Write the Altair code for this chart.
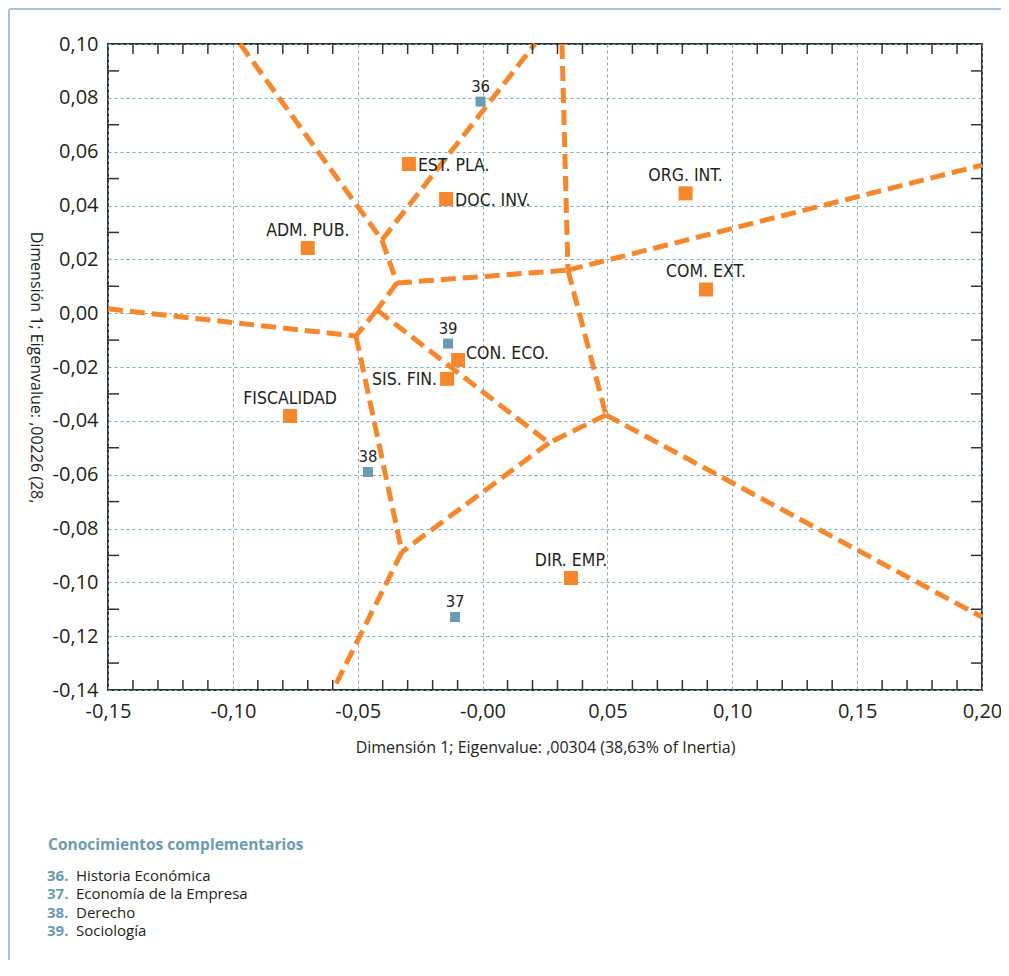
import altair as alt
import pandas as pd

# ---------------- data ----------------
act_names = ["EST. PLA.", "DOC. INV.", "ADM. PUB.", "ORG. INT.", "COM. EXT.",
             "CON. ECO.", "SIS. FIN.", "FISCALIDAD", "DIR. EMP."]
act_x = [-0.0295, -0.0146, -0.0700, 0.0813, 0.0895, -0.0098, -0.0142, -0.0771, 0.0354]
act_y = [0.0554, 0.0424, 0.0242, 0.0445, 0.0088, -0.0174, -0.0244, -0.0382, -0.0984]
act_pos = ["right", "right", "top", "top", "top", "upright", "left", "top", "top"]

sup_names = ["36", "37", "38", "39"]
sup_x = [-0.0008, -0.0110, -0.0459, -0.0138]
sup_y = [0.0786, -0.1129, -0.0590, -0.0113]

# Voronoi-like boundary segments
seg_x1 = [-0.0971, -0.0403, -0.0403, -0.0343, 0.0318, 0.0342, 0.0342, 0.0494,
          0.0494, -0.0343, -0.0423, -0.0423, -0.1500, -0.0507, 0.0266, -0.0323]
seg_y1 = [0.1000, 0.0272, 0.0272, 0.0112, 0.1000, 0.0160, 0.0160, -0.0378,
          -0.0378, 0.0112, 0.0012, 0.0012, 0.0016, -0.0085, -0.0482, -0.0887]
seg_x2 = [-0.0403, 0.0210, -0.0343, 0.0342, 0.0342, 0.2000, 0.0494, 0.2000,
          0.0266, -0.0423, 0.0266, -0.0507, -0.0507, -0.0323, -0.0323, -0.0599]
seg_y2 = [0.0272, 0.1000, 0.0112, 0.0160, 0.0160, 0.0550, -0.0378, -0.1129,
          -0.0482, 0.0012, -0.0482, -0.0085, -0.0085, -0.0887, -0.0887, -0.1400]

x_ticks = [-0.15, -0.10, -0.05, 0.0, 0.05, 0.10, 0.15, 0.20]
x_tick_labels = ["-0,15", "-0,10", "-0,05", "-0,00", "0,05", "0,10", "0,15", "0,20"]
y_ticks = [-0.14, -0.12, -0.10, -0.08, -0.06, -0.04, -0.02, 0.0, 0.02, 0.04, 0.06, 0.08, 0.10]
y_tick_labels = ["-0,14", "-0,12", "-0,10", "-0,08", "-0,06", "-0,04", "-0,02",
                 "0,00", "0,02", "0,04", "0,06", "0,08", "0,10"]
x_minor = [-0.14, -0.13, -0.12, -0.11, -0.09, -0.08, -0.07, -0.06, -0.04, -0.03, -0.02, -0.01,
           0.01, 0.02, 0.03, 0.04, 0.06, 0.07, 0.08, 0.09, 0.11, 0.12, 0.13, 0.14,
           0.16, 0.17, 0.18, 0.19]
y_minor = [0.09, 0.07, 0.05, 0.03, 0.01, -0.01, -0.03, -0.05, -0.07, -0.09, -0.11, -0.13]

x_title = "Dimensión 1; Eigenvalue: ,00304 (38,63% of Inertia)"
y_title = "Dimensión 1; Eigenvalue: ,00226 (28,"

legend_title = "Conocimientos complementarios"
legend_nums = ["36.", "37.", "38.", "39."]
legend_names = ["Historia Económica", "Economía de la Empresa", "Derecho", "Sociología"]

# ---------------- styles ----------------
W, H = 874, 646
orange = "#F5872C"
blue = "#6B9BB2"
dark = "#231F20"
gridc = "#7FA6BA"
lab_font = "DejaVu Sans Condensed, Liberation Sans, sans-serif"
axis_font = "Open Sans"

xs = alt.Scale(domain=[-0.15, 0.20], nice=False, zero=False)
ys = alt.Scale(domain=[-0.14, 0.10], nice=False, zero=False)

def arr_expr(labels, start, step):
    arr = "[" + ",".join("'" + s + "'" for s in labels) + "]"
    return f"{arr}[round((datum.value - ({start})) / {step})]"

xaxis = alt.Axis(values=x_ticks, labelExpr=arr_expr(x_tick_labels, -0.15, 0.05),
                 grid=True, gridDash=[3, 3], gridColor=gridc, gridWidth=1,
                 ticks=False, domain=False, labelFont=axis_font, labelFontSize=20,
                 labelColor=dark, labelPadding=11, labelOverlap=False, labelFlush=False,
                 title=x_title, titleFont=axis_font, titleFontSize=16,
                 titleFontWeight="normal", titleColor=dark, titleX=W / 2, titleY=57,
                 titleBaseline="middle", titleAlign="center")
yaxis = alt.Axis(values=y_ticks, labelExpr=arr_expr(y_tick_labels, -0.14, 0.02),
                 grid=True, gridDash=[3, 3], gridColor=gridc, gridWidth=1,
                 ticks=False, domain=False, labelFont=axis_font, labelFontSize=20,
                 labelColor=dark, labelPadding=10, labelOverlap=False, labelFlush=False,
                 title=y_title, titleFont=axis_font, titleFontSize=16,
                 titleFontWeight="normal", titleColor=dark, titleAngle=90,
                 titleX=-73, titleY=H / 2, titleBaseline="middle", titleAlign="center")

def X(field):
    return alt.X(field, scale=xs, axis=xaxis)

def Y(field):
    return alt.Y(field, scale=ys, axis=yaxis)

seg_df = pd.DataFrame({"x1": seg_x1, "y1": seg_y1, "x2": seg_x2, "y2": seg_y2})
act_df = pd.DataFrame({"x": act_x, "y": act_y, "name": act_names, "pos": act_pos})
sup_df = pd.DataFrame({"x": sup_x, "y": sup_y, "name": sup_names})
xm_df = pd.DataFrame({"t": x_minor})
ym_df = pd.DataFrame({"t": y_minor})

lines = alt.Chart(seg_df).mark_rule(
    color=orange, strokeWidth=5, strokeDash=[15, 7], strokeCap="butt"
).encode(x=X("x1:Q"), y=Y("y1:Q"), x2="x2:Q", y2="y2:Q")

tick_style = dict(color="#333333", strokeWidth=1.5)
xt_top = alt.Chart(xm_df).mark_rule(**tick_style).encode(
    x=X("t:Q"), y=alt.value(0), y2=alt.value(10))
xt_bot = alt.Chart(xm_df).mark_rule(**tick_style).encode(
    x=X("t:Q"), y=alt.value(H), y2=alt.value(H - 10))
yt_left = alt.Chart(ym_df).mark_rule(**tick_style).encode(
    y=Y("t:Q"), x=alt.value(0), x2=alt.value(11))
yt_right = alt.Chart(ym_df).mark_rule(**tick_style).encode(
    y=Y("t:Q"), x=alt.value(W), x2=alt.value(W - 11))

pts_act = alt.Chart(act_df).mark_square(size=196, color=orange, opacity=1).encode(
    x=X("x:Q"), y=Y("y:Q"))
pts_sup = alt.Chart(sup_df).mark_square(size=100, color=blue, opacity=1).encode(
    x=X("x:Q"), y=Y("y:Q"))

def lab_layer(pos, **kw):
    return alt.Chart(act_df).transform_filter(
        alt.datum.pos == pos
    ).mark_text(font=lab_font, fontSize=17.5, color=dark, baseline="middle", **kw).encode(
        x=X("x:Q"), y=Y("y:Q"), text="name:N")

labs = [
    lab_layer("right", align="left", dx=9, dy=2),
    lab_layer("upright", align="left", dx=8, dy=-6),
    lab_layer("left", align="right", dx=-10, dy=1),
    lab_layer("top", align="center", dy=-17),
]
sup_labs = alt.Chart(sup_df).mark_text(
    font=lab_font, fontSize=16.5, color=dark, align="center", baseline="middle", dy=-15
).encode(x=X("x:Q"), y=Y("y:Q"), text="name:N")

# decorative frame and bottom legend text (annotation, pixel placed)
one = pd.DataFrame({"a": [0]})
border_top = alt.Chart(one).mark_rule(color="#A9C4D2", strokeWidth=2).encode(
    x=alt.value(-99), x2=alt.value(W + 20), y=alt.value(-35))
border_left = alt.Chart(one).mark_rule(color="#A9C4D2", strokeWidth=2).encode(
    x=alt.value(-99), y=alt.value(-35), y2=alt.value(H + 300))

ann = [border_top, border_left]
ann.append(alt.Chart(one).mark_text(
    text=legend_title, font=axis_font, fontSize=15.5, fontWeight="bold", color=blue,
    align="left", baseline="middle").encode(x=alt.value(-60), y=alt.value(801)))
leg_y0, leg_dy = 832, 18.3
for i, (n, t) in enumerate(zip(legend_nums, legend_names)):
    yy = leg_y0 + i * leg_dy
    ann.append(alt.Chart(one).mark_text(
        text=n, font=axis_font, fontSize=15, fontWeight="bold", color=blue,
        align="left", baseline="middle").encode(x=alt.value(-61), y=alt.value(yy)))
    ann.append(alt.Chart(one).mark_text(
        text=t, font=axis_font, fontSize=15, color=dark,
        align="left", baseline="middle").encode(x=alt.value(-32), y=alt.value(yy)))

chart = alt.layer(
    lines, xt_top, xt_bot, yt_left, yt_right, pts_act, pts_sup, *labs, sup_labs, *ann
).properties(
    width=W, height=H,
    autosize=alt.AutoSizeParams(type="none"),
    padding={"left": 100, "top": 36, "right": 19, "bottom": 270},
    background="white",
).configure_view(
    stroke="#333333", strokeWidth=2
)

chart.save("out.html", embed_options={"renderer": "svg", "actions": False})
